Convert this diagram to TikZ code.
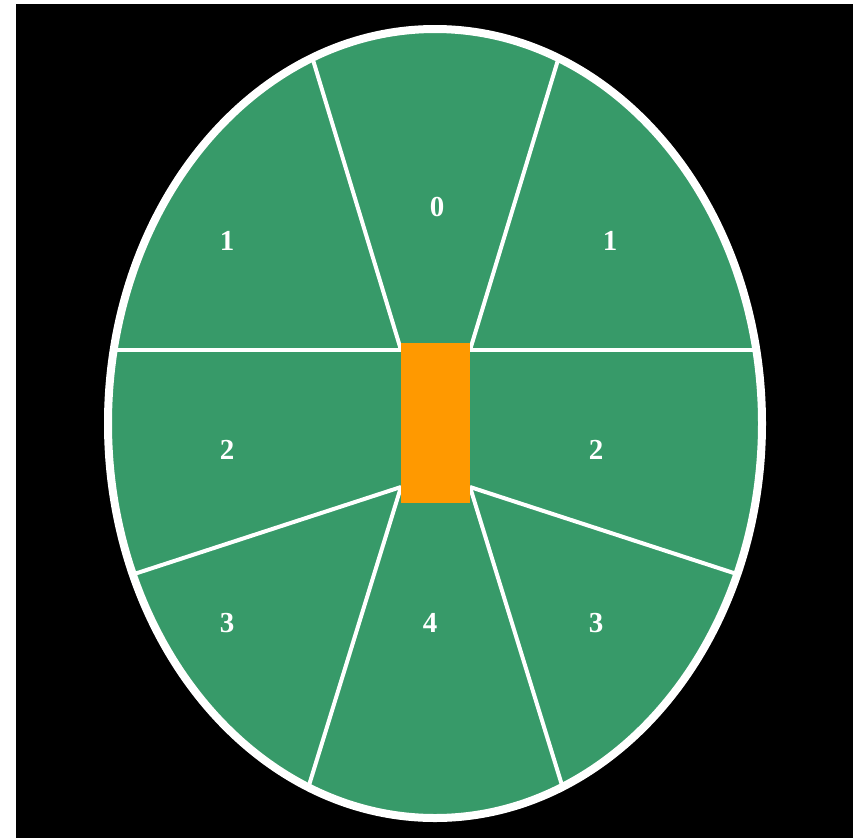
\documentclass[tikz,border=0pt]{standalone}
\usepackage{fontspec}
\setmainfont{Liberation Serif}
\usetikzlibrary{shapes.geometric}
\definecolor{leaf}{HTML}{379A69}
\definecolor{core}{HTML}{FF9900}
\tikzset{
  divider/.style={draw=white, line width=4pt},
  lbl/.style={text=white, font=\bfseries\fontsize{29}{34}\selectfont, inner sep=0pt},
}
\begin{document}
\begin{tikzpicture}[x=1pt, y=-1pt]
\useasboundingbox (0,0) rectangle (856,838);
\fill[black] (16,4) rectangle (852.5,838);
% body
\node[ellipse, fill=leaf, draw=none, minimum width=654pt, minimum height=789pt, inner sep=0pt] (body) at (435,423.5) {};
% divider anchor coordinates
\coordinate (tl) at (401,350);
\coordinate (tr) at (470,350);
\coordinate (bl) at (401,487);
\coordinate (br) at (470,487);
\coordinate (e1) at (311.5,55);
\coordinate (e2) at (559.5,55);
\coordinate (e3) at (100,350);
\coordinate (e4) at (771,350);
\coordinate (e5) at (125,577);
\coordinate (e6) at (306,795);
\coordinate (e7) at (565,795);
\coordinate (e8) at (746,577);
\begin{scope}
\clip (435,423.5) ellipse [x radius=327, y radius=394.5];
\draw[divider] (tl) -- (e1);
\draw[divider] (tr) -- (e2);
\draw[divider] (tl) -- (e3);
\draw[divider] (tr) -- (e4);
\draw[divider] (bl) -- (e5);
\draw[divider] (bl) -- (e6);
\draw[divider] (br) -- (e7);
\draw[divider] (br) -- (e8);
\end{scope}
\draw[white, line width=8pt] (435,423.5) ellipse [x radius=327, y radius=394.5];
% core
\node[fill=core, draw=none, minimum width=69pt, minimum height=160pt, inner sep=0pt] (c) at (435.5,423) {};
% labels
\node[lbl] (l0) at (437,207) {0};
\node[lbl] (l1a) at (227,241) {1};
\node[lbl] (l1b) at (610,241) {1};
\node[lbl] (l2a) at (227,450) {2};
\node[lbl] (l2b) at (596,450) {2};
\node[lbl] (l3a) at (227,623) {3};
\node[lbl] (l4) at (430,623) {4};
\node[lbl] (l3b) at (596,623) {3};
\end{tikzpicture}
\end{document}
